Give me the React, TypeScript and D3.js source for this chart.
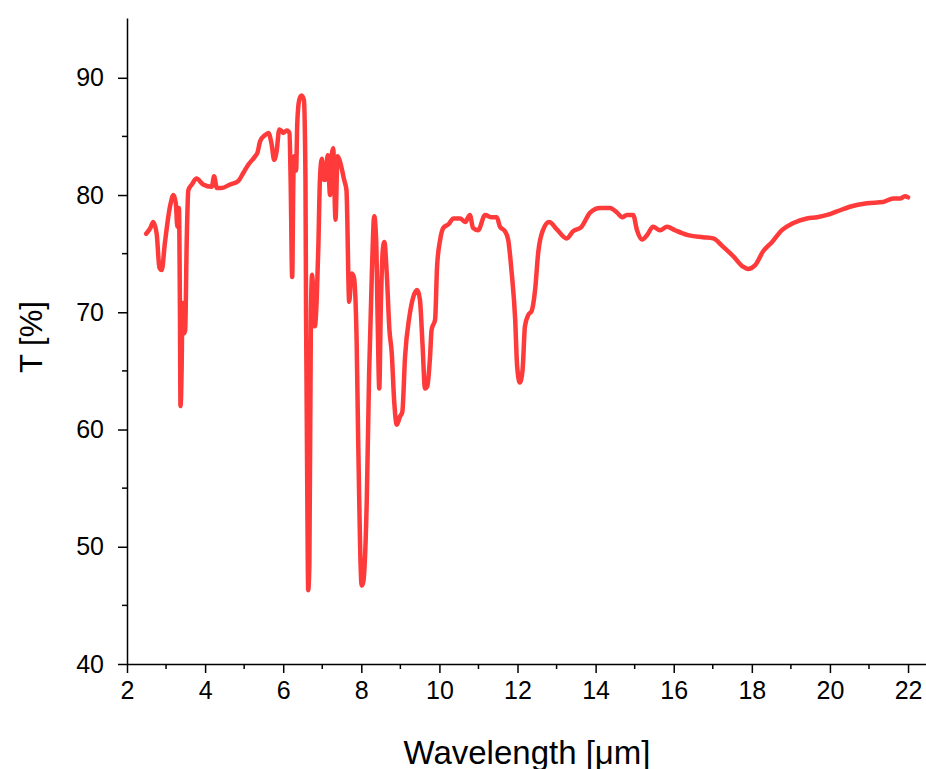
import { useEffect, useRef } from 'react'
import * as d3 from 'd3'

const WAVELENGTH = [
  2.49, 2.6, 2.67, 2.76, 2.83, 2.89, 2.97, 3.1, 3.19, 3.25, 3.29, 3.33, 3.355, 3.37, 3.4, 3.42,
  3.46, 3.49, 3.53, 3.57, 3.66, 3.78, 3.95, 4.17, 4.23, 4.3, 4.42, 4.64, 4.85, 4.98, 5.11, 5.28,
  5.34, 5.41, 5.53, 5.62, 5.7, 5.77, 5.83, 5.9, 5.95, 6.0, 6.09, 6.16, 6.19, 6.23, 6.26, 6.28,
  6.33, 6.36, 6.41, 6.47, 6.53, 6.57, 6.585, 6.62, 6.64, 6.67, 6.71, 6.74, 6.77, 6.81, 6.86, 6.9,
  6.94, 6.99, 7.04, 7.08, 7.14, 7.2, 7.24, 7.28, 7.34, 7.39, 7.44, 7.56, 7.62, 7.69, 7.75, 7.81,
  7.88, 7.92, 8.01, 8.05, 8.14, 8.2, 8.27, 8.33, 8.38, 8.42, 8.46, 8.5, 8.55, 8.59, 8.65, 8.72,
  8.78, 8.84, 8.91, 8.99, 9.05, 9.12, 9.23, 9.33, 9.43, 9.5, 9.57, 9.63, 9.69, 9.76, 9.8, 9.89,
  9.94, 10.02, 10.1, 10.23, 10.36, 10.53, 10.66, 10.78, 10.86, 10.99, 11.17, 11.34, 11.47, 11.55,
  11.68, 11.76, 11.85, 11.94, 11.99, 12.06, 12.13, 12.19, 12.28, 12.36, 12.45, 12.53, 12.65, 12.81,
  13.0, 13.26, 13.42, 13.64, 13.86, 14.11, 14.37, 14.55, 14.68, 14.8, 14.96, 15.06, 15.19, 15.32,
  15.47, 15.65, 15.83, 16.03, 16.34, 16.75, 17.01, 17.26, 17.52, 17.77, 17.9, 18.08, 18.29, 18.52,
  18.77, 19.05, 19.41, 19.67, 19.93, 20.18, 20.51, 20.95, 21.36, 21.62, 21.8, 21.92, 22.0,
]

const TRANSMITTANCE = [
  76.7, 77.2, 77.7, 76.7, 73.8, 73.6, 75.9, 79.0, 80.0, 79.3, 77.3, 78.9, 70.5, 62.0, 65.4, 70.8,
  68.2, 68.5, 76.2, 80.4, 80.9, 81.4, 80.9, 80.7, 81.6, 80.6, 80.6, 80.9, 81.2, 81.9, 82.6, 83.3,
  83.6, 84.6, 85.1, 85.3, 84.4, 83.0, 83.7, 85.6, 85.5, 85.3, 85.5, 85.3, 81.3, 73.0, 81.3, 83.3,
  82.1, 86.1, 88.1, 88.5, 88.1, 81.3, 69.9, 52.9, 46.3, 48.5, 69.9, 73.2, 71.6, 68.8, 71.3, 75.6,
  81.3, 83.1, 81.3, 81.3, 83.4, 80.0, 83.4, 84.0, 77.9, 83.3, 83.0, 81.3, 80.4, 70.9, 73.3, 73.0,
  67.6, 59.1, 46.7, 47.0, 54.0, 64.8, 73.3, 78.2, 76.2, 69.1, 63.5, 70.5, 75.3, 76.0, 73.4, 68.5,
  66.5, 62.5, 60.4, 61.1, 61.5, 66.2, 69.6, 71.3, 71.9, 71.1, 67.1, 63.5, 63.7, 66.2, 68.5, 69.4,
  73.9, 76.2, 77.2, 77.5, 78.0, 78.0, 77.7, 78.3, 77.2, 77.0, 78.3, 78.1, 78.1, 77.3,
  76.9, 76.2, 73.4, 69.4, 65.4, 64.0, 65.1, 68.8, 69.8, 70.1, 71.9, 75.1, 77.0, 77.7,
  77.1, 76.3, 76.9, 77.3, 78.5, 78.9, 78.9, 78.5, 78.1, 78.3, 78.3, 77.0, 76.2, 76.6,
  77.3, 77.0, 77.3, 77.0, 76.6, 76.4, 76.3, 75.6, 74.8, 73.9, 73.7, 74.0, 75.2, 76.0,
  77.0, 77.6, 78.0, 78.1, 78.3, 78.6, 79.0, 79.3, 79.4, 79.7, 79.7, 79.9, 79.8,
]

const X_TICKS = [2, 4, 6, 8, 10, 12, 14, 16, 18, 20, 22]
const X_MINOR = [3, 5, 7, 9, 11, 13, 15, 17, 19, 21]
const Y_TICKS = [40, 50, 60, 70, 80, 90]
const Y_MINOR = [45, 55, 65, 75, 85]

const W = 926
const H = 769
const FONT = '"Liberation Sans", Arial, sans-serif'

export default function App() {
  const ref = useRef<SVGSVGElement | null>(null)

  useEffect(() => {
    if (!ref.current) return
    const svg = d3.select(ref.current)
    svg.selectAll('*').remove()

    const x = d3.scaleLinear().domain([2, 22.46]).range([127, W])
    const y = d3.scaleLinear().domain([40, 95.1]).range([664, 18])

    const pts = WAVELENGTH.map((w, i) => [w, TRANSMITTANCE[i]] as [number, number])
    const line = d3
      .line<[number, number]>()
      .x((d) => x(d[0]))
      .y((d) => y(d[1]))
      .curve(d3.curveMonotoneX)

    svg
      .append('path')
      .attr('d', line(pts))
      .attr('fill', 'none')
      .attr('stroke', '#ff3a3a')
      .attr('stroke-width', 4.5)
      .attr('stroke-linejoin', 'round')
      .attr('stroke-linecap', 'round')

    const xAxis = svg
      .append('g')
      .attr('transform', `translate(0,${y(40)})`)
      .call(d3.axisBottom(x).tickValues(X_TICKS).tickSize(9).tickSizeOuter(0).tickPadding(8))
    xAxis
      .selectAll('.minor')
      .data(X_MINOR)
      .enter()
      .append('line')
      .attr('x1', (d) => x(d))
      .attr('x2', (d) => x(d))
      .attr('y2', 5)
      .attr('stroke', '#000')
      .attr('stroke-width', 1.5)

    const yAxis = svg
      .append('g')
      .attr('transform', `translate(${x(2)},0)`)
      .call(d3.axisLeft(y).tickValues(Y_TICKS).tickSize(9).tickSizeOuter(0).tickPadding(14))
    yAxis
      .selectAll('.minor')
      .data(Y_MINOR)
      .enter()
      .append('line')
      .attr('y1', (d) => y(d))
      .attr('y2', (d) => y(d))
      .attr('x2', -5)
      .attr('stroke', '#000')
      .attr('stroke-width', 1.5)

    svg
      .selectAll('.domain, .tick line')
      .attr('stroke', '#000')
      .attr('stroke-width', 1.5)
    svg
      .selectAll('.tick text')
      .attr('fill', '#000')
      .attr('font-family', FONT)
      .attr('font-size', 25)

    // the reference crops the bottom of this title too
    svg
      .append('text')
      .attr('x', 527)
      .attr('y', 764)
      .attr('text-anchor', 'middle')
      .attr('font-family', FONT)
      .attr('font-size', 33)
      .text('Wavelength [μm]')

    svg
      .append('text')
      .attr('transform', 'translate(42,337) rotate(-90)')
      .attr('text-anchor', 'middle')
      .attr('font-family', FONT)
      .attr('font-size', 31)
      .text('T [%]')
  }, [])

  return (
    <svg
      ref={ref}
      width={W}
      height={H}
      style={{ position: 'absolute', left: 0, top: 0, background: '#fff' }}
    />
  )
}
